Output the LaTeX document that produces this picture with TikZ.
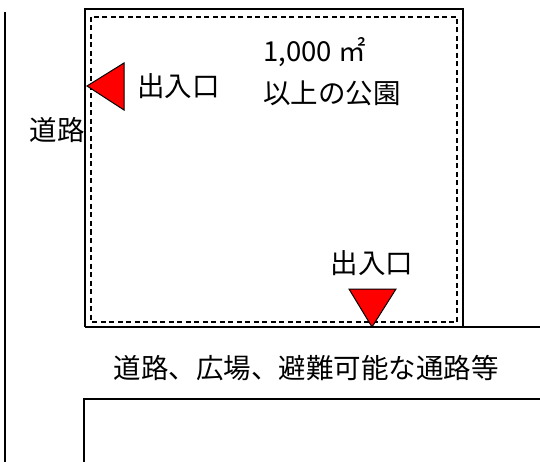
\documentclass[tikz,border=0pt]{standalone}
\usepackage{fontspec}
\setmainfont{Noto Sans CJK JP}
\usetikzlibrary{positioning,calc}
\tikzstyle{wall} = [line width=1.2pt]
\tikzstyle{edge} = [line width=1.2pt,dashed,dash pattern=on 5pt off 3.5pt]
\tikzstyle{gate} = [draw=black,line width=1pt,fill=red]
\tikzstyle{label} = [inner sep=0pt,font=\fontsize{27.5}{30}\selectfont]

\begin{document}
\begin{tikzpicture}[x=1pt,y=-1pt]
    \useasboundingbox (0,0) rectangle (540,462);
    % roads and park outline
    \draw[wall] (5,12) -- (5,462);
    \draw[wall] (85,327) -- (85,9) -- (463,9) -- (463,327);
    \draw[wall] (85,327) -- (540,327);
    \draw[wall] (540,399) -- (84,399) -- (84,462);
    \draw[edge] (91,17) rectangle (457,322);

    % entrances
    \draw[gate] (87,86) -- (124,63) -- (124,110) -- cycle;
    \draw[gate] (349,289) -- (396,289) -- (372,327) -- cycle;

    % texts
    \node (gate1)[label, anchor=west] at (137,86) {出入口};
    \node (area)[label, anchor=west] at (263,52) {1,000 ㎡};
    \node (park)[label, anchor=west] at (263,93) {以上の公園};
    \node (road1)[label] at (57,130) {道路};
    \node (gate2)[label] at (372,263) {出入口};
    \node (road2)[label] at (306,368) {道路、広場、避難可能な通路等};
\end{tikzpicture}
\end{document}
